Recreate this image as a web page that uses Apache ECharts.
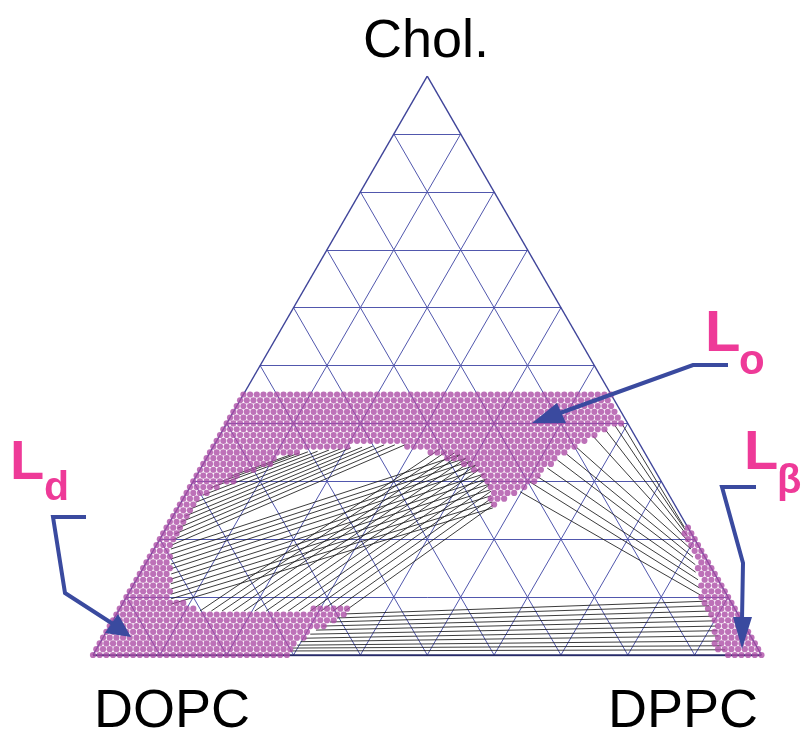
<!DOCTYPE html>
<html><head><meta charset="utf-8">
<script src="https://cdn.jsdelivr.net/npm/echarts@6/dist/echarts.min.js"></script>
<style>html,body{margin:0;padding:0;background:#fff}#c{width:801px;height:735px}</style>
</head><body><div id="c"></div>
<script>
// Ternary compositions in mol%: [chol, dppc]; DOPC = 100 - chol - dppc
const vertexNames = ['DOPC', 'DPPC', 'Chol.'];
const gridTicks = [10, 20, 30, 40, 50, 60, 70, 80, 90];

// Single-phase dot runs on the 1% lattice: [chol, dppcFrom, dppcTo]
const ldRuns = [
  [0,0,29],[1,0,29],[2,0,29],[3,0,30],[4,0,30],[5,0,32],[6,0,33],[7,0,34],
  [8,0,11],[8,29,34],[9,0,9],[10,0,6],[11,0,6],[12,0,5],[13,0,5],[14,0,4],
  [15,0,4],[16,0,3],[17,0,3],[18,0,2],[19,0,2],[20,0,2],[21,0,2],[22,0,2],
  [23,0,2],[24,0,2],[25,0,2],[26,0,2],[27,0,2],[28,0,3],[29,0,4],[30,0,6],
  [31,0,6],[32,0,8],[33,0,10],[34,0,10],[35,0,13],[36,0,20]
];
const loRuns = [
  [26,47,47],[27,46,48],[28,46,49],[29,45,50],[30,44,51],[31,43,51],[32,41,51],
  [33,39,52],[34,36,52],[35,33,53],[36,29,54],[37,0,55],[38,0,56],[39,0,57],
  [40,0,59],[41,0,58],[42,0,57],[43,0,56],[44,0,55],[45,0,55]
];
const lbRuns = [
  [0,95,100],[1,93,99],[2,92,98],[3,92,97],[4,91,96],[5,91,95],[6,90,94],
  [7,89,93],[8,88,92],[9,87,91],[10,86,90],[11,86,89],[12,85,88],[13,85,87],
  [14,84,86],[15,83,85],[16,83,84],[17,82,83],[18,81,82],[19,80,81],[20,79,80],
  [21,78,79],[22,78,78]
];

// Tie lines: [chol1, dppc1, chol2, dppc2]
const tieLdLoA = [
  [8.8,7.3,25.4,47.1],[9.7,6.8,26.4,46.5],[10.5,6.4,27.5,45.8],[11.4,6.0,28.5,45.1],
  [12.3,5.5,29.5,44.5],[13.1,5.1,30.4,43.7],[14.0,4.7,31.3,42.9],[14.9,4.2,32.1,41.8],
  [15.7,3.8,32.8,40.9],[16.6,3.4,33.5,39.8],[17.4,2.9,34.0,38.8],[18.3,2.5,34.6,37.6]
];
const tieLdLoB = [
  [7.6,12.2,35.6,34.1],[7.6,13.9,35.2,35.3],[7.6,15.5,34.9,36.6],[7.6,17.1,34.6,37.6],
  [7.6,18.8,34.0,38.8],[7.6,20.4,33.5,39.8],[7.6,22.1,32.8,40.9],[7.6,23.7,32.1,41.8],
  [7.6,25.4,31.3,42.9],[7.6,27.0,30.4,43.7],[7.6,28.7,29.4,44.6],[7.6,30.3,28.3,45.4],
  [7.6,32.1,27.1,46.1],[7.6,33.9,25.9,46.9]
];
const tieLdLoC = [
  [19.0,2.3,36.3,28.5],[19.9,2.0,36.3,27.0],[20.9,1.8,36.3,25.4],[21.9,1.7,36.1,23.8],
  [23.0,1.7,35.9,22.3],[24.0,1.8,35.8,20.7],[25.2,1.9,35.6,19.2],[26.4,2.2,35.4,17.6],
  [27.6,2.6,35.2,16.0],[28.9,3.2,35.1,14.6],[29.9,4.1,34.9,13.4],[30.9,5.2,34.6,12.3]
];
const tieLoLb = [
  [28.2,49.8,10.4,85.6],[29.9,50.4,11.6,84.9],[30.8,51.1,13.0,84.0],[32.3,51.8,14.3,83.0],
  [33.7,52.6,15.6,82.3],[34.7,53.5,16.9,81.3],[35.8,54.5,18.3,80.3],[37.8,55.9,19.5,79.4],
  [38.9,57.2,20.6,78.6],[39.6,58.3,21.6,77.8],[39.9,59.2,22.1,77.4]
];
const tieLdLb = [
  [0.7,29.1,0.9,94.1],[1.2,29.3,1.6,93.2],[1.7,29.7,2.4,92.4],[2.3,29.9,3.3,91.9],
  [2.9,30.2,4.2,91.3],[3.6,30.7,5.0,90.7],[4.3,31.2,5.9,90.0],[5.0,31.8,6.7,89.4],
  [5.7,32.6,7.6,88.7],[6.4,33.3,8.5,87.9],[7.1,34.2,9.3,87.2]
];

const SQ = Math.sqrt(3) / 2;
function xy(chol, dppc) { return [dppc + chol / 2, chol * SQ]; }

function runsToDots(runs) {
  const out = [];
  runs.forEach(([c, a, b]) => { for (let d = a; d <= b; d++) out.push(xy(c, d)); });
  return out;
}
function tiesToLines(ties) {
  return ties.map(t => ({ coords: [xy(t[0], t[1]), xy(t[2], t[3])] }));
}

const gridLines = [];
gridTicks.forEach(k => {
  gridLines.push({ coords: [xy(k, 0), xy(k, 100 - k)] });          // const chol
  gridLines.push({ coords: [xy(0, k), xy(100 - k, k)] });          // const dppc
  gridLines.push({ coords: [xy(0, 100 - k), xy(100 - k, 0)] });    // const dopc
});
const sideLines = [
  { coords: [xy(0, 0), xy(100, 0)] },
  { coords: [xy(100, 0), xy(0, 100)] }
];
const baseLine = [{ coords: [xy(0, 0), xy(0, 100)] }];

const allTies = [].concat(tiesToLines(tieLdLoA), tiesToLines(tieLdLoB), tiesToLines(tieLdLoC),
  tiesToLines(tieLoLb), tiesToLines(tieLdLb));

const blue = '#3a4a9f', pink = '#ee3a98', dotColor = '#ad4ea6';
const FF = '"Liberation Sans", Arial, Helvetica, sans-serif';

const chart = echarts.init(document.getElementById('c'), null, { renderer: 'canvas' });
chart.setOption({
  animation: false,
  backgroundColor: '#ffffff',
  grid: { left: 93, right: 39.5, top: 76.1, bottom: 80, containLabel: false },
  xAxis: { type: 'value', min: 0, max: 100, show: false },
  yAxis: { type: 'value', min: 0, max: 100 * SQ, show: false },
  series: [
    { type: 'lines', coordinateSystem: 'cartesian2d', silent: true, z: 1,
      lineStyle: { color: '#5157ad', width: 1, opacity: 1 }, data: gridLines },
    { type: 'lines', coordinateSystem: 'cartesian2d', silent: true, z: 2,
      lineStyle: { color: '#3f4499', width: 1.4, opacity: 1 }, data: sideLines },
    { type: 'lines', coordinateSystem: 'cartesian2d', silent: true, z: 2,
      lineStyle: { color: '#262a68', width: 2.6, opacity: 1 }, data: baseLine },
    { type: 'lines', coordinateSystem: 'cartesian2d', silent: true, z: 3,
      lineStyle: { color: '#1a1a1a', width: 0.9, opacity: 0.95 }, data: allTies },
    { type: 'scatter', name: 'Ld', silent: true, z: 5, symbolSize: 6.2,
      itemStyle: { color: dotColor }, data: runsToDots(ldRuns) },
    { type: 'scatter', name: 'Lo', silent: true, z: 5, symbolSize: 6.2,
      itemStyle: { color: dotColor }, data: runsToDots(loRuns) },
    { type: 'scatter', name: 'Lb', silent: true, z: 5, symbolSize: 6.2,
      itemStyle: { color: dotColor }, data: runsToDots(lbRuns) }
  ],
  graphic: [
    { type: 'text', z: 10, style: { x: 426, y: 42, text: vertexNames[2], fill: '#000', font: '54px ' + FF, textAlign: 'center', textVerticalAlign: 'middle' } },
    { type: 'text', z: 10, style: { x: 172, y: 712, text: vertexNames[0], fill: '#000', font: '54px ' + FF, textAlign: 'center', textVerticalAlign: 'middle' } },
    { type: 'text', z: 10, style: { x: 683, y: 712, text: vertexNames[1], fill: '#000', font: '54px ' + FF, textAlign: 'center', textVerticalAlign: 'middle' } },

    // L_d label + arrow
    { type: 'text', z: 10, style: { x: 10, y: 464, text: 'L', fill: pink, font: 'bold 56px ' + FF, textAlign: 'left', textVerticalAlign: 'middle' } },
    { type: 'text', z: 10, style: { x: 44, y: 489, text: 'd', fill: pink, font: 'bold 41px ' + FF, textAlign: 'left', textVerticalAlign: 'middle' } },
    { type: 'polyline', z: 10, shape: { points: [[86, 517], [53, 517], [65, 593], [113, 624]] }, style: { stroke: blue, lineWidth: 4, fill: null, lineJoin: 'miter' } },
    { type: 'polygon', z: 10, shape: { points: [[131, 637], [105, 633], [118, 614]] }, style: { fill: blue } },

    // L_o label + arrow
    { type: 'text', z: 10, style: { x: 705, y: 335, text: 'L', fill: pink, font: 'bold 58px ' + FF, textAlign: 'left', textVerticalAlign: 'middle' } },
    { type: 'text', z: 10, style: { x: 739, y: 362, text: 'o', fill: pink, font: 'bold 42px ' + FF, textAlign: 'left', textVerticalAlign: 'middle' } },
    { type: 'polyline', z: 10, shape: { points: [[728, 365], [693, 365], [560, 413]] }, style: { stroke: blue, lineWidth: 4, fill: null } },
    { type: 'polygon', z: 10, shape: { points: [[532, 423], [557, 403], [566, 423]] }, style: { fill: blue } },

    // L_beta label + arrow
    { type: 'text', z: 10, style: { x: 744, y: 454, text: 'L', fill: pink, font: 'bold 56px ' + FF, textAlign: 'left', textVerticalAlign: 'middle' } },
    { type: 'text', z: 10, style: { x: 777, y: 482, text: 'β', fill: pink, font: 'bold 40px ' + FF, textAlign: 'left', textVerticalAlign: 'middle' } },
    { type: 'polyline', z: 10, shape: { points: [[756, 487], [722, 487], [743, 563], [742, 620]] }, style: { stroke: blue, lineWidth: 4, fill: null } },
    { type: 'polygon', z: 10, shape: { points: [[742, 649], [733, 617], [752, 617]] }, style: { fill: blue } }
  ]
});
</script>
</body></html>
